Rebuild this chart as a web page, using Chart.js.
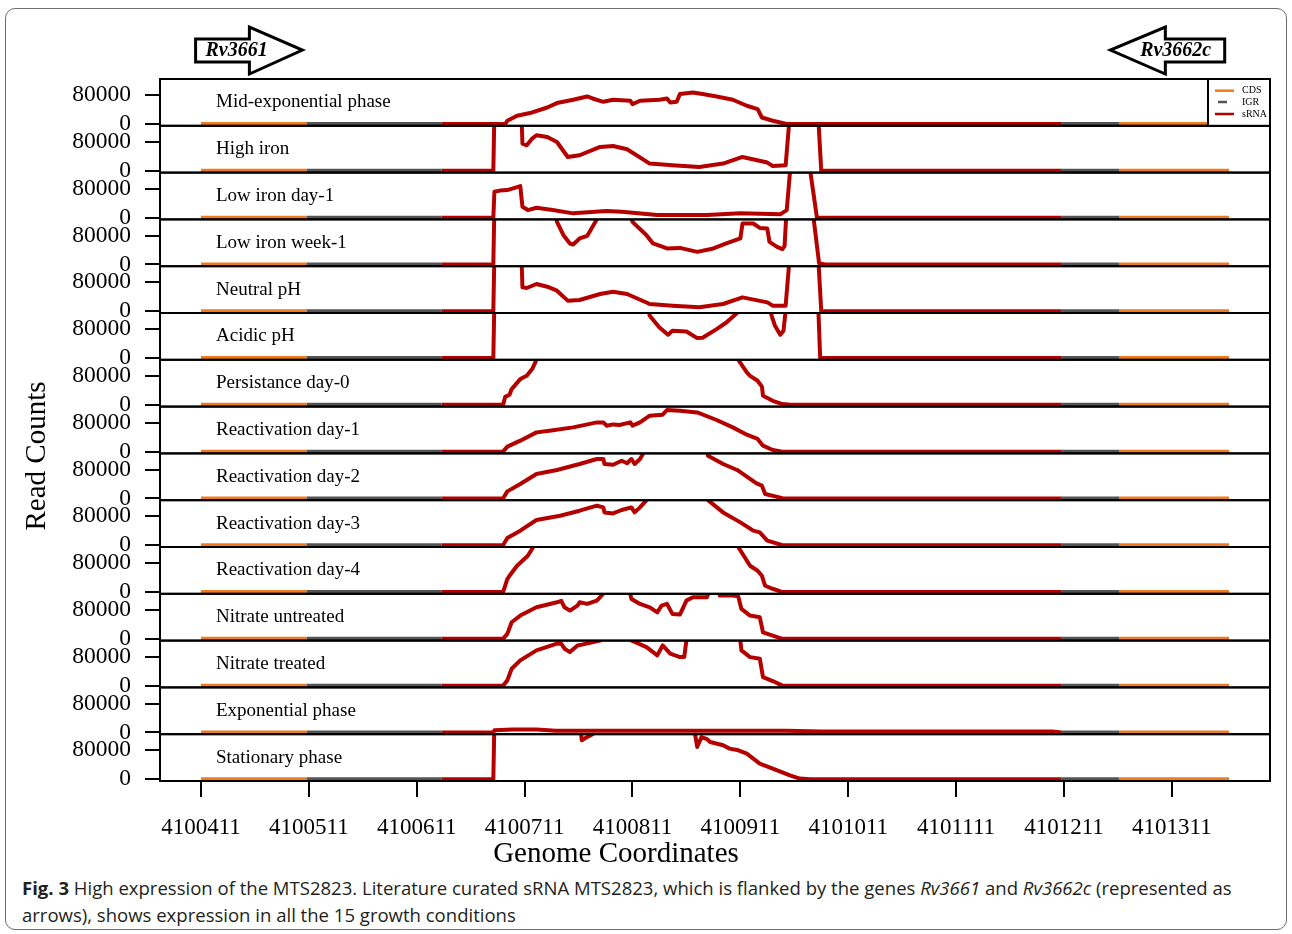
<!DOCTYPE html>
<html>
<head>
<meta charset="utf-8">
<script src="https://cdn.jsdelivr.net/npm/chart.js"></script>
<style>
  html, body { margin: 0; padding: 0; background: #fff; }
  body { width: 1292px; height: 934px; position: relative; overflow: hidden; }
  .frame { position: absolute; left: 5px; top: 8px; width: 1282px; height: 922px; box-sizing: border-box;
           border: 1.5px solid #6e6e6e; border-radius: 10px; }
  #plot { position: absolute; left: 0; top: 0; }
  .caption { position: absolute; left: 22px; top: 874px; font-family: "Open Sans", sans-serif; font-size: 18.55px;
             line-height: 27px; color: #231f20; white-space: nowrap; }
</style>
</head>
<body>
<div class="frame"></div>
<canvas id="plot" width="1292" height="870"></canvas>
<div class="caption"><b>Fig. 3</b> High expression of the MTS2823. Literature curated sRNA MTS2823, which is flanked by the genes <i>Rv3661</i> and <i>Rv3662c</i> (represented as<br>arrows), shows expression in all the 15 growth conditions</div>
<script>
// ---- tick labels and axis ranges ----
const xTicks = [4100411, 4100511, 4100611, 4100711, 4100811, 4100911, 4101011, 4101111, 4101211, 4101311];
const yTicks = [0, 80000];
const xRange = [4100373, 4101402];
const yRange = [-4800, 124500];

// ---- genomic regions along the track ----
const regionNames = ['CDS', 'IGR', 'sRNA', 'IGR', 'CDS'];
const regionStarts = [4100411, 4100509, 4100634, 4101209, 4101262];
const regionEnds = [4100509, 4100634, 4101209, 4101262, 4101364];
const legendLabels = ['CDS', 'IGR', 'sRNA'];
const regionColors = { CDS: '#ef7a1f', IGR: '#545454', sRNA: '#b50000' };

// flanking genes drawn as arrows above the panels
const geneNames = ['Rv3661', 'Rv3662c'];
const geneStarts = [4100406, 4101254];
const geneEnds = [4100505, 4101360];
const geneStrands = [1, -1];

// ---- growth conditions (one panel each) ----
const conditions = [
  'Mid-exponential phase', 'High iron', 'Low iron day-1', 'Low iron week-1', 'Neutral pH', 'Acidic pH',
  'Persistance day-0', 'Reactivation day-1', 'Reactivation day-2', 'Reactivation day-3', 'Reactivation day-4',
  'Nitrate untreated', 'Nitrate treated', 'Exponential phase', 'Stationary phase'
];

// read counts [genome coordinate, reads]; values above the panel range are cut off by the panel
const midExponential = [
  [4100693,0],[4100695,9100],[4100704,22900],[4100716,30400],[4100732,45800],[4100741,58000],[4100756,67100],
  [4100769,76200],[4100774,70700],[4100784,61500],[4100793,67100],[4100809,64300],[4100811,55200],[4100818,64300],
  [4100836,67100],[4100843,70700],[4100846,59600],[4100852,61500],[4100855,82800],[4100867,87200],[4100876,82800],
  [4100889,76200],[4100904,67100],[4100917,50500],[4100927,41400],[4100931,18200],[4100941,9100],[4100954,0]
];
const highIron = [
  [4100682,0],[4100683,160000],[4100708,160000],[4100709,75300],[4100713,70700],[4100718,89100],[4100722,98300],
  [4100732,93600],[4100741,79800],[4100751,38400],[4100762,43100],[4100781,66000],[4100793,68700],[4100806,59600],
  [4100827,20100],[4100848,15500],[4100873,10800],[4100895,20100],[4100913,38400],[4100936,22900],[4100941,13500],
  [4100953,15500],[4100957,160000],[4100983,160000],[4100986,0]
];
const lowIronDay1 = [
  [4100682,0],[4100683,71500],[4100688,74800],[4100695,76200],[4100707,87200],[4100709,30100],[4100714,21000],
  [4100722,27300],[4100737,21000],[4100756,11900],[4100787,18200],[4100801,16300],[4100834,7200],[4100880,7200],
  [4100911,11900],[4100948,9100],[4100954,21000],[4100958,160000],[4100975,160000],[4100976,124700],[4100982,0]
];
const lowIronWeek1 = [
  [4100682,0],[4100683,160000],[4100738,160000],[4100741,117600],[4100747,80900],[4100753,58000],[4100756,55200],
  [4100762,71800],[4100769,78900],[4100778,124700],[4100781,160000],[4100808,160000],[4100811,117600],[4100824,80900],
  [4100830,58000],[4100843,44200],[4100855,45800],[4100871,34800],[4100886,44200],[4100898,58000],[4100911,71800],
  [4100913,113200],[4100923,113200],[4100929,101000],[4100936,99400],[4100938,62400],[4100945,48600],[4100950,42200],
  [4100952,50500],[4100954,160000],[4100978,160000],[4100979,124700],[4100984,3000],[4100990,0]
];
const neutralPH = [
  [4100682,0],[4100683,160000],[4100708,160000],[4100709,66000],[4100713,64300],[4100722,75300],[4100732,67900],
  [4100741,56900],[4100751,29300],[4100762,31200],[4100781,47700],[4100793,54100],[4100806,47700],[4100827,20100],
  [4100848,15500],[4100873,10800],[4100895,20100],[4100913,38400],[4100936,24600],[4100941,15500],[4100953,15500],
  [4100957,160000],[4100983,160000],[4100986,0]
];
const acidicPH = [
  [4100682,0],[4100683,160000],[4100824,160000],[4100827,116700],[4100836,84500],[4100844,64300],[4100848,75300],
  [4100861,73400],[4100871,55200],[4100876,56000],[4100889,80000],[4100898,98300],[4100908,124700],[4100911,160000],
  [4100937,160000],[4100940,116700],[4100943,90000],[4100948,64300],[4100951,75300],[4100954,160000],[4100983,160000],
  [4100985,0]
];
const persistenceDay0 = [
  [4100691,0],[4100693,22000],[4100697,28000],[4100699,43600],[4100707,71200],[4100713,80300],[4100718,98800],
  [4100722,124700],[4100730,160000],[4100900,160000],[4100909,124700],[4100917,90000],[4100920,80300],[4100927,66500],
  [4100931,50500],[4100932,25100],[4100941,11300],[4100950,2200],[4100957,0]
];
const reactivationDay1 = [
  [4100691,0],[4100695,13800],[4100707,30400],[4100722,53300],[4100734,58000],[4100756,67100],[4100778,80900],
  [4100784,80900],[4100787,71800],[4100793,75300],[4100799,73700],[4100809,80900],[4100811,71800],[4100818,80900],
  [4100827,99400],[4100839,102100],[4100843,115100],[4100855,113200],[4100871,108500],[4100889,87500],[4100904,67100],
  [4100917,46900],[4100927,35100],[4100932,16600],[4100941,4700],[4100950,0]
];
const reactivationDay2 = [
  [4100691,0],[4100695,19600],[4100707,40000],[4100722,67600],[4100741,78700],[4100762,95200],[4100778,109000],
  [4100784,109000],[4100785,95200],[4100793,93300],[4100801,104300],[4100806,97400],[4100810,109000],[4100813,95200],
  [4100818,109000],[4100821,124700],[4100825,160000],[4100878,160000],[4100881,118100],[4100895,95200],[4100908,78700],
  [4100917,60200],[4100926,41700],[4100931,35300],[4100934,12400],[4100950,800],[4100957,0]
];
const reactivationDay3 = [
  [4100691,0],[4100695,20100],[4100707,40300],[4100722,69800],[4100744,81700],[4100762,95500],[4100778,109300],
  [4100784,104600],[4100785,90800],[4100793,88000],[4100801,97400],[4100810,104600],[4100813,90800],[4100818,104600],
  [4100824,124700],[4100828,160000],[4100878,160000],[4100881,124700],[4100895,90800],[4100911,63200],[4100923,40300],
  [4100929,35600],[4100936,12700],[4100950,0]
];
const reactivationDay4 = [
  [4100691,0],[4100695,35900],[4100697,45000],[4100704,72600],[4100709,86400],[4100714,100200],[4100719,124700],
  [4100722,160000],[4100905,160000],[4100909,124700],[4100920,72600],[4100927,58800],[4100931,45000],[4100934,17400],
  [4100941,9100],[4100950,0]
];
const nitrateUntreated = [
  [4100691,0],[4100695,13800],[4100699,45800],[4100707,64300],[4100722,87200],[4100741,101000],[4100745,104900],
  [4100748,87200],[4100753,78100],[4100760,91900],[4100762,101000],[4100769,96600],[4100778,105700],[4100784,124700],
  [4100790,160000],[4100806,160000],[4100810,110400],[4100818,96600],[4100827,87200],[4100834,73400],[4100838,91900],
  [4100843,96600],[4100848,69000],[4100855,67100],[4100861,105700],[4100867,114800],[4100880,114800],[4100883,140000],
  [4100889,140000],[4100892,119500],[4100904,119500],[4100909,118000],[4100912,82800],[4100920,64300],[4100929,59600],
  [4100932,18200],[4100941,9100],[4100950,0]
];
const nitrateTreated = [
  [4100691,0],[4100695,14600],[4100699,46900],[4100707,69800],[4100722,97400],[4100741,115900],[4100745,115900],
  [4100748,102100],[4100753,92700],[4100760,111200],[4100762,112100],[4100781,124700],[4100785,160000],[4100806,160000],
  [4100810,124700],[4100824,106500],[4100834,83600],[4100839,111200],[4100846,88300],[4100855,78900],[4100859,78900],
  [4100861,124700],[4100864,160000],[4100906,160000],[4100911,124700],[4100912,97400],[4100920,78900],[4100929,74500],
  [4100932,23700],[4100941,12700],[4100950,0]
];
const exponentialPhase = [
  [4100682,0],[4100683,6000],[4100700,8300],[4100722,8300],[4100740,5000],[4100954,4400],[4100986,3000],
  [4101200,2500],[4101209,0]
];
const stationaryPhase = [
  [4100682,0],[4100683,160000],[4100762,160000],[4100764,107600],[4100769,116700],[4100774,124700],[4100778,160000],
  [4100866,160000],[4100869,124700],[4100871,89100],[4100875,116700],[4100880,111200],[4100883,102900],[4100895,93800],
  [4100901,84700],[4100908,80900],[4100917,70900],[4100929,43300],[4100941,29500],[4100957,11000],[4100966,1900],
  [4100976,0]
];

const tracks = [
  midExponential, highIron, lowIronDay1, lowIronWeek1, neutralPH, acidicPH, persistenceDay0, reactivationDay1,
  reactivationDay2, reactivationDay3, reactivationDay4, nitrateUntreated, nitrateTreated, exponentialPhase, stationaryPhase
];

// ---- helpers ----
function regionAt(x) {
  for (let i = 0; i < regionNames.length; i++) {
    if (x >= regionStarts[i] && x <= regionEnds[i]) return regionNames[i];
  }
  return 'sRNA';
}
// pad a read-count track with zero points at the region boundaries it does not cover
function withRegionEdges(points) {
  const first = points[0][0];
  const last = points[points.length - 1][0];
  const edges = [...new Set(regionStarts.concat(regionEnds))].sort((a, b) => a - b);
  const before = edges.filter(e => e < first).map(e => ({ x: e, y: 0 }));
  const after = edges.filter(e => e > last).map(e => ({ x: e, y: 0 }));
  return before.concat(points.map(([x, y]) => ({ x, y })), after);
}

const SERIF = '"Liberation Serif", "Times New Roman", serif';

// ---- scales: one shared x axis and a vertical stack of y axes ----
const scales = {
  x: {
    type: 'linear', position: 'bottom', min: xRange[0], max: xRange[1],
    afterBuildTicks: s => { s.ticks = xTicks.map(v => ({ value: v })); },
    afterFit: s => { s.height = 89; },
    ticks: { callback: v => String(v), color: '#000', font: { family: SERIF, size: 23 }, padding: 17,
             maxRotation: 0, autoSkip: false },
    grid: { drawOnChartArea: false, drawTicks: true, tickLength: 16, color: '#000', lineWidth: 2 },
    border: { display: true, color: '#000', width: 2 }
  }
};
conditions.forEach((name, i) => {
  scales['y' + i] = {
    type: 'linear', position: 'left', stack: 'panels', stackWeight: 1, weight: conditions.length - i,
    min: yRange[0], max: yRange[1],
    afterBuildTicks: s => { s.ticks = yTicks.map(v => ({ value: v })); },
    afterFit: s => { s.width = 160; },
    ticks: { callback: v => String(v), color: '#000', font: { family: SERIF, size: 23.5 }, padding: 14, autoSkip: false },
    grid: { drawOnChartArea: false, drawTicks: true, tickLength: 15, color: '#000', lineWidth: 2 },
    border: { display: true, color: '#000', width: 2 }
  };
});

const datasets = conditions.map((name, i) => ({
  label: name,
  data: withRegionEdges(tracks[i]),
  yAxisID: 'y' + i,
  borderColor: regionColors.sRNA,
  borderWidth: 4,
  pointRadius: 0,
  tension: 0,
  borderJoinStyle: 'round',
  segment: {
    borderColor: ctx => regionColors[regionAt((ctx.p0.parsed.x + ctx.p1.parsed.x) / 2)]
  }
}));

// ---- panel clipping, frames, labels, legend, gene arrows and axis titles ----
const panelDecor = {
  id: 'panelDecor',
  beforeDatasetDraw(chart, args) {
    const ys = chart.scales[args.meta.yAxisID];
    const { left, right } = chart.chartArea;
    const ctx = chart.ctx;
    ctx.save();
    ctx.beginPath();
    ctx.rect(left, ys.top, right - left, ys.bottom - ys.top);
    ctx.clip();
  },
  afterDatasetDraw(chart) {
    chart.ctx.restore();
  },
  afterDatasetsDraw(chart) {
    const ctx = chart.ctx;
    const { left, right } = chart.chartArea;
    ctx.save();
    ctx.strokeStyle = '#000';
    ctx.lineWidth = 2;
    conditions.forEach((name, i) => {
      const ys = chart.scales['y' + i];
      ctx.strokeRect(left, ys.top, right - left, ys.bottom - ys.top);
      ctx.fillStyle = '#000';
      ctx.font = '19px ' + SERIF;
      ctx.textAlign = 'left';
      ctx.textBaseline = 'middle';
      ctx.fillText(name, left + 56, ys.top + 23.5);
    });

    // legend in the first panel
    const y0 = chart.scales.y0;
    const lx = right - 62;
    ctx.fillStyle = '#fff';
    ctx.fillRect(lx, y0.top, right - lx, y0.bottom - y0.top);
    ctx.strokeRect(lx, y0.top, right - lx, y0.bottom - y0.top);
    const rowY = [11.7, 23, 35];
    legendLabels.forEach((lab, k) => {
      const yy = y0.top + rowY[k];
      ctx.strokeStyle = regionColors[lab];
      ctx.lineWidth = 2.5;
      ctx.beginPath();
      if (lab === 'IGR') { ctx.moveTo(right - 52, yy); ctx.lineTo(right - 43, yy); }
      else { ctx.moveTo(right - 55, yy); ctx.lineTo(right - 36, yy); }
      ctx.stroke();
      ctx.fillStyle = '#000';
      ctx.font = '10px ' + SERIF;
      ctx.textBaseline = 'middle';
      ctx.fillText(lab, right - 28, yy);
    });
    ctx.restore();
  },
  afterDraw(chart) {
    const ctx = chart.ctx;
    const xs = chart.scales.x;
    const top = chart.chartArea.top;
    ctx.save();
    // gene arrows
    geneNames.forEach((g, i) => {
      const a = xs.getPixelForValue(geneStarts[i]);
      const b = xs.getPixelForValue(geneEnds[i]);
      const bodyT = top - 40, bodyB = top - 17, headT = top - 52, headB = top - 5, mid = top - 29;
      const headLen = 53;
      ctx.beginPath();
      if (geneStrands[i] > 0) {
        const hb = b - headLen;
        ctx.moveTo(a, bodyT); ctx.lineTo(hb, bodyT); ctx.lineTo(hb, headT); ctx.lineTo(b, mid);
        ctx.lineTo(hb, headB); ctx.lineTo(hb, bodyB); ctx.lineTo(a, bodyB);
      } else {
        const hb = a + headLen + 2;
        ctx.moveTo(b, bodyT); ctx.lineTo(hb, bodyT); ctx.lineTo(hb, headT); ctx.lineTo(a, mid);
        ctx.lineTo(hb, headB); ctx.lineTo(hb, bodyB); ctx.lineTo(b, bodyB);
      }
      ctx.closePath();
      ctx.fillStyle = '#fff';
      ctx.fill();
      ctx.strokeStyle = '#000';
      ctx.lineWidth = 3;
      ctx.lineJoin = 'miter';
      ctx.stroke();
      ctx.fillStyle = '#000';
      ctx.font = 'italic bold 20px ' + SERIF;
      ctx.textAlign = 'center';
      ctx.textBaseline = 'middle';
      const tx = geneStrands[i] > 0 ? a + 41 : b - 49;
      ctx.fillText(g, tx, mid + 1);
    });
    // axis titles
    ctx.fillStyle = '#000';
    ctx.font = '29px ' + SERIF;
    ctx.textAlign = 'center';
    ctx.textBaseline = 'middle';
    ctx.fillText('Genome Coordinates', 616, 854);
    ctx.translate(37, 456);
    ctx.rotate(-Math.PI / 2);
    ctx.fillText('Read Counts', 0, 0);
    ctx.restore();
  }
};

new Chart(document.getElementById('plot'), {
  type: 'line',
  data: { datasets },
  options: {
    responsive: false,
    animation: false,
    devicePixelRatio: 1,
    layout: { padding: { top: 79, right: 22, left: 0, bottom: 0 } },
    plugins: { legend: { display: false }, tooltip: { enabled: false } },
    scales
  },
  plugins: [panelDecor]
});
</script>
</body>
</html>
